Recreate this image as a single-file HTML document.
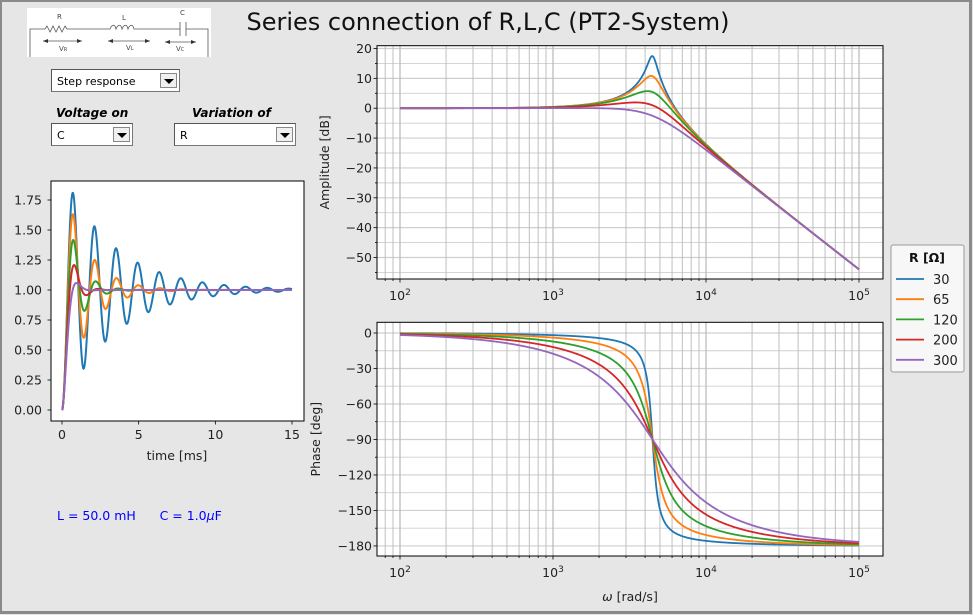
<!DOCTYPE html>
<html><head><meta charset="utf-8"><style>
body{margin:0;width:973px;height:615px;overflow:hidden;background:#e6e6e6;font-family:"DejaVu Sans","Liberation Sans",sans-serif;}
#frame{position:absolute;left:0;top:0;width:967px;height:609px;border:3px solid #8a8a8a;border-left-width:2px;border-top-width:2px;background:#e6e6e6}
.sel{position:absolute;background:#fff;border:1px solid #777;border-top-color:#555;border-left-color:#555;height:21px;font-size:11px;line-height:21px;padding-left:5px;box-sizing:border-box}
.sel .btn{position:absolute;right:2px;top:2px;width:17px;height:15px;background:#f0f0f0;border:1px solid #888;box-sizing:border-box}
.sel .btn:after{content:"";position:absolute;left:3px;top:5px;border-left:5px solid transparent;border-right:5px solid transparent;border-top:5px solid #000}
.lbl{position:absolute;font-size:12px;font-weight:bold;font-style:italic}
svg{position:absolute;left:0;top:0}
</style></head><body>
<div id="frame"></div>
<svg width="973" height="615" id="s" xmlns="http://www.w3.org/2000/svg" font-family="DejaVu Sans, Liberation Sans, sans-serif"></svg>
<div class="sel" style="left:51px;top:69px;width:129px;height:23px;line-height:23px">Step response<div class="btn" style="top:3px"></div></div>
<div class="lbl" style="left:56px;top:106px">Voltage on</div>
<div class="lbl" style="left:192px;top:106px">Variation of</div>
<div class="sel" style="left:51px;top:123px;width:82px;height:23px;line-height:23px">C<div class="btn" style="top:3px"></div></div>
<div class="sel" style="left:174px;top:123px;width:122px;height:23px;line-height:23px">R<div class="btn" style="top:3px"></div></div>
<script>
const S=document.getElementById('s');let h='';
const cols=['#1f77b4','#ff7f0e','#2ca02c','#d62728','#9467bd'];const Rs=[30,65,120,200,300];
const L=0.05,C=1e-6,w0=1/Math.sqrt(L*C);
h+='<rect x="27" y="8" width="184" height="49" fill="#fff"/>';
h+='<g stroke="#555" fill="none" stroke-width="0.8"><path d="M30 57 V29 H45 l2 -3 l3 6 l3 -6 l3 6 l3 -6 l3 6 l3 -6 l2 3 H110 c2 -5 5 -5 6 0 c2 -5 5 -5 6 0 c2 -5 5 -5 6 0 c2 -5 5 -5 6 0 H180 M180 22 V36 M186 22 V36 M186 29 H208 V57"/>';
h+='<path d="M43 41 H82 M108 41 H150 M165 42 H196"/></g>';
h+='<g fill="#333"><path d="M43 41 l5 -2 v4z M82 41 l-5 -2 v4z M108 41 l5 -2 v4z M150 41 l-5 -2 v4z M165 42 l5 -2 v4z M196 42 l-5 -2 v4z"/></g>';
h+='<g font-size="7" fill="#444"><text x="57" y="19">R</text><text x="122" y="20">L</text><text x="180" y="15">C</text><text x="59" y="51">V<tspan font-size="5">R</tspan></text><text x="126" y="50">V<tspan font-size="5">L</tspan></text><text x="176" y="51">V<tspan font-size="5">C</tspan></text></g>';
h+='<text x="488" y="30" font-size="24" text-anchor="middle" fill="#111">Series connection of R,L,C (PT2-System)</text>';
const lx=w=>400+153*(Math.log10(w)-2);
function logAx(top,bot,y0,k,ymin,ymax,major,minor,fn,lab,labx){
 const l=377,r=883;
 h+=`<rect x="${l}" y="${top}" width="${r-l}" height="${bot-top}" fill="#fff"/>`;
 let g='';
 for(let v=Math.ceil(ymin/minor)*minor;v<=ymax;v+=minor){const y=y0-k*v;g+=`<line x1="${l}" x2="${r}" y1="${y}" y2="${y}" stroke="#cfcfcf" stroke-width="${v%major==0?1.2:0.9}"/>`;
  h+=`<line x1="${l}" x2="${l-(v%major==0?3.5:2)}" y1="${y}" y2="${y}" stroke="#000" stroke-width="0.8"/>`;
  if(v%major==0)h+=`<text x="${l-5}" y="${y+4.5}" font-size="12.5" text-anchor="end" fill="#222">${v<0?'\u2212'+(-v):v}</text>`;}
 const xs=[];for(let d=1;d<=5;d++)for(let m=1;m<10;m++){const w=m*Math.pow(10,d);const x=lx(w);if(x<l||x>r)continue;xs.push([x,m,d]);}
 xs.forEach(([x,m,d])=>{g+=`<line x1="${x}" x2="${x}" y1="${top}" y2="${bot}" stroke="#b8b8b8" stroke-width="${m==1?1.2:0.9}"/>`;
  h+=`<line x1="${x}" x2="${x}" y1="${bot}" y2="${bot+(m==1?3.5:2)}" stroke="#000" stroke-width="0.8"/>`;
  if(m==1&&d>=2)h+=`<text x="${x}" y="${bot+21}" font-size="12.5" text-anchor="middle" fill="#222">10<tspan dy="-5" font-size="9">${d}</tspan></text>`;});
 h+=g;
 Rs.forEach((R,i)=>{const z=R/2*Math.sqrt(C/L);let p='';for(let j=0;j<=600;j++){const w=Math.pow(10,2+3*j/600);p+=(j?'L':'M')+lx(w).toFixed(2)+' '+(y0-k*fn(w/w0,z)).toFixed(2);}
  h+=`<path d="${p}" fill="none" stroke="${cols[i]}" stroke-width="1.8"/>`;});
 h+=`<rect x="${l}" y="${top}" width="${r-l}" height="${bot-top}" fill="none" stroke="#000" stroke-width="1"/>`;
 h+=`<text transform="translate(${labx},${(top+bot)/2}) rotate(-90)" font-size="12.5" text-anchor="middle" fill="#222">${lab}</text>`;
}
logAx(45.7,279,48.5+20*2.986,2.986,-57,20.9,10,5,(u,z)=>-10*Math.log10((1-u*u)**2+(2*z*u)**2),'Amplitude [dB]',329);
logAx(322.3,556,333,1.183,-190,9,30,15,(u,z)=>-Math.atan2(2*z*u,1-u*u)*180/Math.PI,'Phase [deg]',320);
h+='<text x="630" y="601" font-size="12.5" text-anchor="middle" fill="#222"><tspan font-style="italic">ω</tspan> [rad/s]</text>';
{const l=51,t=181,r=304,b=421;h+=`<rect x="${l}" y="${t}" width="${r-l}" height="${b-t}" fill="#fff"/>`;
 const tx=v=>62+230*v/15,ty=v=>410-120*v;
 for(let v=0;v<=1.751;v+=0.25){const y=ty(v);h+=`<line x1="${l}" x2="${l-3.5}" y1="${y}" y2="${y}" stroke="#000" stroke-width="0.8"/><text x="${l-9}" y="${y+4.5}" font-size="12.5" text-anchor="end" fill="#222">${v.toFixed(2)}</text>`;}
 for(let v=0;v<=15;v+=5){const x=tx(v);h+=`<line x1="${x}" x2="${x}" y1="${b}" y2="${b+3.5}" stroke="#000" stroke-width="0.8"/><text x="${x}" y="${b+18}" font-size="12.5" text-anchor="middle" fill="#222">${v}</text>`;}
 Rs.forEach((R,i)=>{const z=R/2*Math.sqrt(C/L),wd=w0*Math.sqrt(1-z*z);let p='';for(let j=0;j<=800;j++){const tt=15e-3*j/800;const y=1-Math.exp(-z*w0*tt)*(Math.cos(wd*tt)+z/Math.sqrt(1-z*z)*Math.sin(wd*tt));p+=(j?'L':'M')+tx(tt*1000).toFixed(2)+' '+ty(y).toFixed(2);}
  h+=`<path d="${p}" fill="none" stroke="${cols[i]}" stroke-width="2"/>`;});
 h+=`<rect x="${l}" y="${t}" width="${r-l}" height="${b-t}" fill="none" stroke="#000"/>`;
 h+='<text x="177" y="460" font-size="12.5" text-anchor="middle" fill="#222">time [ms]</text>';}
h+='<text x="57" y="520" font-size="12.5" fill="#0000ff">L = 50.0 mH&#160;&#160;&#160;&#160;&#160;&#160;C = 1.0<tspan font-style="italic">μ</tspan>F</text>';
h+='<rect x="891" y="245" width="73" height="127" rx="2" fill="#f7f7f7" stroke="#999"/>';
h+='<text x="927" y="262" font-size="12.5" font-weight="bold" text-anchor="middle" fill="#111">R [Ω]</text>';
Rs.forEach((R,i)=>{const y=279+20.2*i;h+=`<line x1="896" x2="924" y1="${y}" y2="${y}" stroke="${cols[i]}" stroke-width="1.8"/><text x="933" y="${y+5}" font-size="13" fill="#222">${R}</text>`;});
S.innerHTML=h;
</script>
</body></html>
